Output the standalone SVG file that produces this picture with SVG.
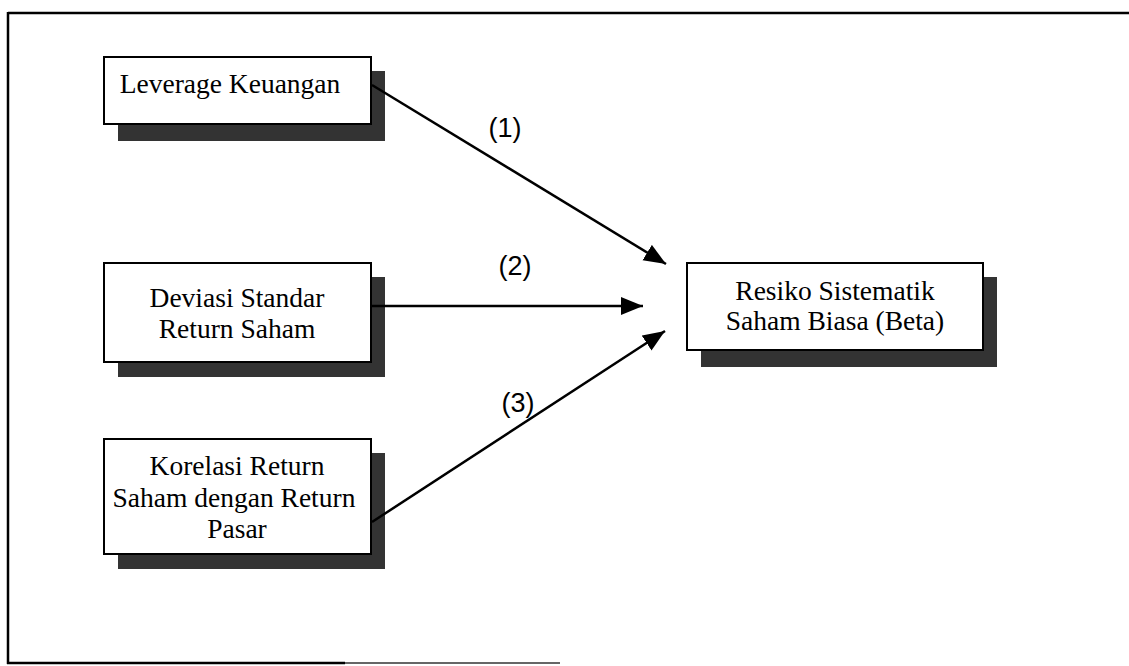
<svg xmlns="http://www.w3.org/2000/svg" width="1129" height="666" viewBox="0 0 1129 666">
  <style>
    .box { fill: #ffffff; stroke: #000000; stroke-width: 2; }
    .shadow { fill: #333333; }
    .txt { font-family: "Liberation Serif", "Times New Roman", serif; font-size: 27.5px; fill: #000; text-anchor: middle; }
    .lbl { font-family: "Liberation Sans", Arial, sans-serif; font-size: 27px; fill: #000; text-anchor: middle; }
    .conn { stroke: #000; stroke-width: 2.5; fill: none; marker-end: url(#arrow); }
    .frame { stroke: #000; stroke-width: 2.5; fill: none; }
  </style>
  <defs>
    <marker id="arrow" markerUnits="userSpaceOnUse" markerWidth="24" markerHeight="20" refX="22" refY="9" orient="auto">
      <path d="M0,0 L22,9 L0,18 z" fill="#000"/>
    </marker>
  </defs>
  <rect width="1129" height="666" fill="#ffffff"/>

  <g id="frame">
    <line class="frame" x1="8" y1="13" x2="1129" y2="13"/>
    <line class="frame" x1="8" y1="12" x2="8" y2="664"/>
    <line class="frame" x1="7" y1="663" x2="345" y2="663"/>
    <line x1="345" y1="663" x2="560" y2="663" stroke="#666" stroke-width="2"/>
  </g>

  <g id="node-leverage">
    <rect class="shadow" x="118" y="71" width="267" height="70"/>
    <rect class="box" x="104" y="57" width="267" height="67"/>
    <text class="txt" x="230" y="93">Leverage Keuangan</text>
  </g>

  <g id="node-deviasi">
    <rect class="shadow" x="118" y="277" width="267" height="100"/>
    <rect class="box" x="104" y="263" width="267" height="99"/>
    <text class="txt" x="237" y="307">Deviasi Standar</text>
    <text class="txt" x="237" y="338">Return Saham</text>
  </g>

  <g id="node-korelasi">
    <rect class="shadow" x="118" y="453" width="267" height="116"/>
    <rect class="box" x="104" y="439" width="267" height="115"/>
    <text class="txt" x="237" y="475">Korelasi Return</text>
    <text class="txt" x="234" y="507">Saham dengan Return</text>
    <text class="txt" x="237" y="538">Pasar</text>
  </g>

  <g id="node-resiko">
    <rect class="shadow" x="701" y="277" width="296" height="90"/>
    <rect class="box" x="687" y="263" width="296" height="87"/>
    <text class="txt" x="835" y="300">Resiko Sistematik</text>
    <text class="txt" x="835" y="330">Saham Biasa (Beta)</text>
  </g>

  <g id="connectors">
    <line class="conn" x1="372" y1="85" x2="666" y2="264"/>
    <line class="conn" x1="372" y1="306" x2="643" y2="306"/>
    <line class="conn" x1="372" y1="522" x2="665" y2="331"/>
    <text class="lbl" x="505" y="137">(1)</text>
    <text class="lbl" x="515" y="275">(2)</text>
    <text class="lbl" x="518" y="412">(3)</text>
  </g>
</svg>
